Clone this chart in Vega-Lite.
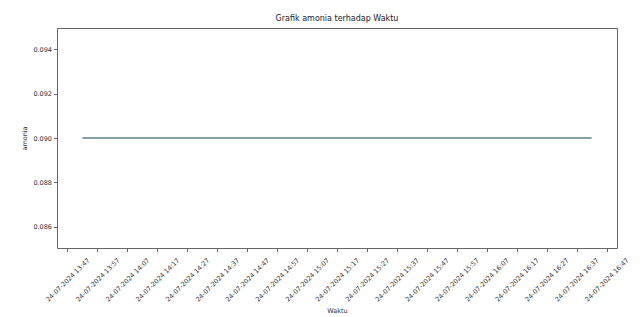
{
  "$schema": "https://vega.github.io/schema/vega-lite/v6.json",
  "autosize": {"type": "none"},
  "width": 560,
  "height": 220,
  "padding": {"left": 57, "top": 28, "right": 26, "bottom": 69},
  "background": "white",
  "title": {"text": "Grafik amonia terhadap Waktu", "fontSize": 8, "fontWeight": "normal", "font": "DejaVu Sans", "color": "#222", "offset": 5},
  "data": {"values": [
    {"Waktu": "2024-07-24T13:52:00", "amonia": 0.09},
    {"Waktu": "2024-07-24T14:02:00", "amonia": 0.09},
    {"Waktu": "2024-07-24T14:12:00", "amonia": 0.09},
    {"Waktu": "2024-07-24T14:22:00", "amonia": 0.09},
    {"Waktu": "2024-07-24T14:32:00", "amonia": 0.09},
    {"Waktu": "2024-07-24T14:42:00", "amonia": 0.09},
    {"Waktu": "2024-07-24T14:52:00", "amonia": 0.09},
    {"Waktu": "2024-07-24T15:02:00", "amonia": 0.09},
    {"Waktu": "2024-07-24T15:12:00", "amonia": 0.09},
    {"Waktu": "2024-07-24T15:22:00", "amonia": 0.09},
    {"Waktu": "2024-07-24T15:32:00", "amonia": 0.09},
    {"Waktu": "2024-07-24T15:42:00", "amonia": 0.09},
    {"Waktu": "2024-07-24T15:52:00", "amonia": 0.09},
    {"Waktu": "2024-07-24T16:02:00", "amonia": 0.09},
    {"Waktu": "2024-07-24T16:12:00", "amonia": 0.09},
    {"Waktu": "2024-07-24T16:22:00", "amonia": 0.09},
    {"Waktu": "2024-07-24T16:32:00", "amonia": 0.09},
    {"Waktu": "2024-07-24T16:42:00", "amonia": 0.09}
  ]},
  "mark": {"type": "line", "color": "#5f7f8a", "strokeWidth": 1.5, "clip": true},
  "encoding": {
    "x": {
      "field": "Waktu", "type": "temporal",
      "scale": {"domain": [
        {"year": 2024, "month": 7, "date": 24, "hours": 13, "minutes": 43, "seconds": 30},
        {"year": 2024, "month": 7, "date": 24, "hours": 16, "minutes": 50, "seconds": 30}
      ]},
      "axis": {
        "title": "Waktu",
        "values": [
          {"year": 2024, "month": 7, "date": 24, "hours": 13, "minutes": 47},
          {"year": 2024, "month": 7, "date": 24, "hours": 13, "minutes": 57},
          {"year": 2024, "month": 7, "date": 24, "hours": 14, "minutes": 7},
          {"year": 2024, "month": 7, "date": 24, "hours": 14, "minutes": 17},
          {"year": 2024, "month": 7, "date": 24, "hours": 14, "minutes": 27},
          {"year": 2024, "month": 7, "date": 24, "hours": 14, "minutes": 37},
          {"year": 2024, "month": 7, "date": 24, "hours": 14, "minutes": 47},
          {"year": 2024, "month": 7, "date": 24, "hours": 14, "minutes": 57},
          {"year": 2024, "month": 7, "date": 24, "hours": 15, "minutes": 7},
          {"year": 2024, "month": 7, "date": 24, "hours": 15, "minutes": 17},
          {"year": 2024, "month": 7, "date": 24, "hours": 15, "minutes": 27},
          {"year": 2024, "month": 7, "date": 24, "hours": 15, "minutes": 37},
          {"year": 2024, "month": 7, "date": 24, "hours": 15, "minutes": 47},
          {"year": 2024, "month": 7, "date": 24, "hours": 15, "minutes": 57},
          {"year": 2024, "month": 7, "date": 24, "hours": 16, "minutes": 7},
          {"year": 2024, "month": 7, "date": 24, "hours": 16, "minutes": 17},
          {"year": 2024, "month": 7, "date": 24, "hours": 16, "minutes": 27},
          {"year": 2024, "month": 7, "date": 24, "hours": 16, "minutes": 37},
          {"year": 2024, "month": 7, "date": 24, "hours": 16, "minutes": 47}
        ],
        "format": "%d-%m-%Y %H:%M",
        "labelAngle": -45,
        "labelAlign": "center",
        "labelBaseline": "middle",
        "labelPadding": 28,
        "labelOverlap": false,
        "labelFlush": false,
        "labelBound": false,
        "labelFontSize": 6.5,
        "labelFont": "DejaVu Sans",
        "labelColor": "#333",
        "grid": false,
        "domain": false,
        "tickSize": 3.5,
        "tickColor": "#666",
        "titleFont": "DejaVu Sans",
        "titleFontSize": 6.5,
        "titleFontWeight": "normal",
        "titleColor": "#333",
        "titleBaseline": "middle",
        "titleY": 62
      }
    },
    "y": {
      "field": "amonia", "type": "quantitative",
      "scale": {"domain": [0.08505, 0.09495], "nice": false, "zero": false},
      "axis": {
        "title": "amonia",
        "values": [0.086, 0.088, 0.09, 0.092, 0.094],
        "format": ".3f",
        "grid": false,
        "domain": false,
        "tickSize": 3.5,
        "tickColor": "#666",
        "labelPadding": 2,
        "labelFontSize": 6.5,
        "labelFont": "DejaVu Sans",
        "labelColor": "#333",
        "titleFont": "DejaVu Sans",
        "titleFontSize": 6.5,
        "titleFontWeight": "normal",
        "titleColor": "#333",
        "titleAlign": "center",
        "titleBaseline": "middle",
        "titleX": -33,
        "titleY": 110
      }
    }
  },
  "config": {
    "view": {"stroke": "#666", "strokeWidth": 1}
  }
}
